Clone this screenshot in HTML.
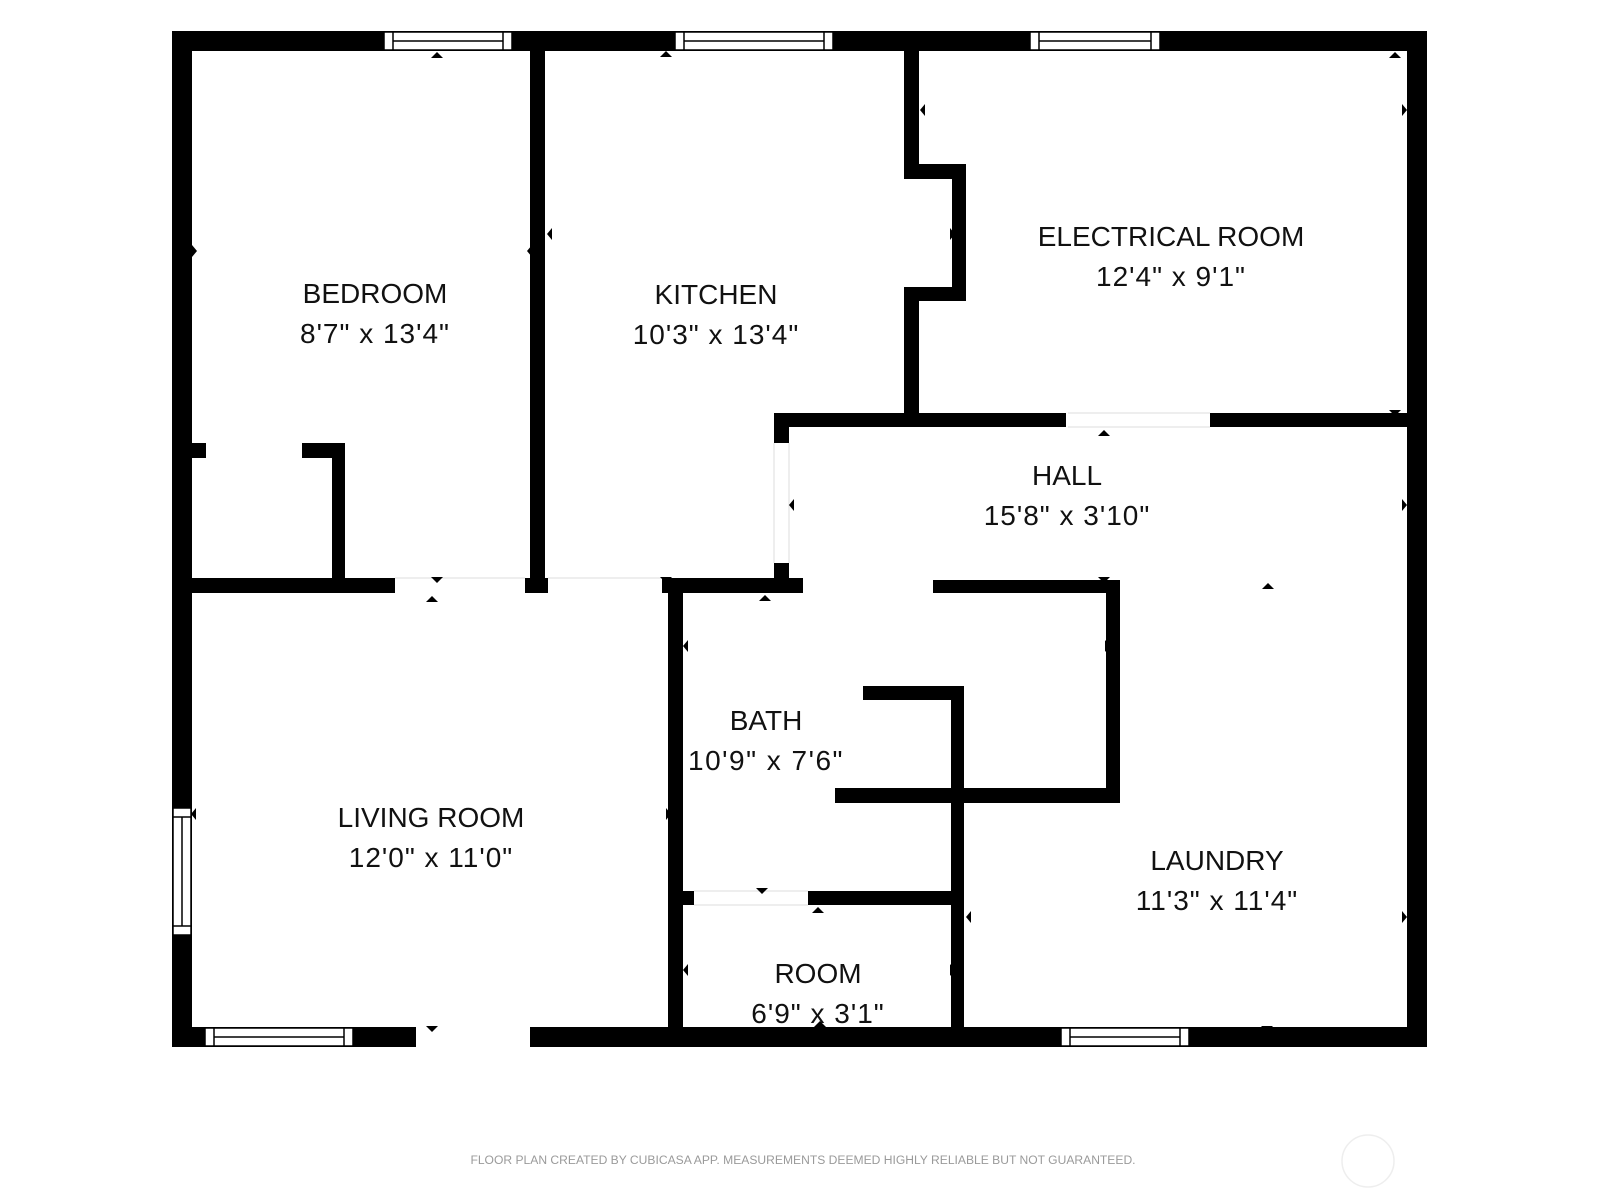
<!DOCTYPE html>
<html><head><meta charset="utf-8"><style>
html,body{margin:0;padding:0;background:#fff}
svg{display:block}
text{font-family:"Liberation Sans",sans-serif;fill:#111}
</style></head><body>
<svg width="1600" height="1200" viewBox="0 0 1600 1200" xmlns="http://www.w3.org/2000/svg">
<rect width="1600" height="1200" fill="#fff"/>
<g fill="#000">
<rect x="172" y="31" width="1255" height="20"/>
<rect x="172" y="31" width="20" height="1016"/>
<rect x="1407" y="31" width="20" height="1016"/>
<rect x="172" y="1027" width="1255" height="20"/>
<rect x="530" y="31" width="15" height="547"/>
<rect x="525" y="578" width="23" height="15"/>
<rect x="172" y="578" width="223" height="15"/>
<rect x="192" y="443" width="14" height="15"/>
<rect x="302" y="443" width="43" height="15"/>
<rect x="332" y="443" width="13" height="140"/>
<rect x="904" y="31" width="15" height="140"/>
<rect x="904" y="164" width="62" height="15"/>
<rect x="952" y="164" width="14" height="137"/>
<rect x="904" y="287" width="62" height="14"/>
<rect x="904" y="287" width="15" height="140"/>
<rect x="774" y="413" width="292" height="14"/>
<rect x="1210" y="413" width="217" height="14"/>
<rect x="774" y="413" width="15" height="30"/>
<rect x="774" y="563" width="15" height="30"/>
<rect x="662" y="578" width="141" height="15"/>
<rect x="933" y="580" width="187" height="13"/>
<rect x="1106" y="580" width="14" height="223"/>
<rect x="835" y="788" width="285" height="15"/>
<rect x="668" y="578" width="15" height="469"/>
<rect x="951" y="686" width="13" height="361"/>
<rect x="863" y="686" width="101" height="14"/>
<rect x="668" y="891" width="26" height="14"/>
<rect x="808" y="891" width="156" height="14"/>
</g>
<g stroke="#ddd" stroke-width="1">
<line x1="395" y1="578" x2="525" y2="578"/>
<line x1="548" y1="578" x2="662" y2="578"/>
<line x1="1068" y1="413" x2="1210" y2="413"/>
<line x1="1068" y1="427" x2="1210" y2="427"/>
<line x1="774" y1="443" x2="774" y2="563"/>
<line x1="789" y1="443" x2="789" y2="563"/>
<line x1="694" y1="891" x2="808" y2="891"/>
<line x1="694" y1="905" x2="808" y2="905"/>
<line x1="416" y1="1027" x2="530" y2="1027"/>
<line x1="416" y1="1047" x2="530" y2="1047"/>
</g>
<rect x="416" y="1026" width="114" height="22" fill="#fff"/>
<g fill="#fff" stroke="#000" stroke-width="1.5">
<rect x="384" y="32" width="128" height="18"/><line x1="393" y1="32" x2="393" y2="50"/><line x1="503" y1="32" x2="503" y2="50"/><line x1="393" y1="41" x2="503" y2="41"/>
<rect x="675" y="32" width="158" height="18"/><line x1="684" y1="32" x2="684" y2="50"/><line x1="824" y1="32" x2="824" y2="50"/><line x1="684" y1="41" x2="824" y2="41"/>
<rect x="1030" y="32" width="130" height="18"/><line x1="1039" y1="32" x2="1039" y2="50"/><line x1="1151" y1="32" x2="1151" y2="50"/><line x1="1039" y1="41" x2="1151" y2="41"/>
<rect x="205" y="1028" width="148" height="18"/><line x1="214" y1="1028" x2="214" y2="1046"/><line x1="344" y1="1028" x2="344" y2="1046"/><line x1="214" y1="1037" x2="344" y2="1037"/>
<rect x="1061" y="1028" width="128" height="18"/><line x1="1070" y1="1028" x2="1070" y2="1046"/><line x1="1180" y1="1028" x2="1180" y2="1046"/><line x1="1070" y1="1037" x2="1180" y2="1037"/>
<rect x="173" y="808" width="18" height="127"/><line x1="173" y1="817" x2="191" y2="817"/><line x1="173" y1="926" x2="191" y2="926"/><line x1="182" y1="817" x2="182" y2="926"/>
</g>
<g fill="#000">
<polygon points="431,58 443,58 437,52"/>
<polygon points="660,57 672,57 666,51"/>
<polygon points="1389,58 1401,58 1395,52"/>
<polygon points="1389,410 1401,410 1395,416"/>
<polygon points="1098,436 1110,436 1104,430"/>
<polygon points="431,577 443,577 437,583"/>
<polygon points="426,602 438,602 432,596"/>
<polygon points="660,577 672,577 666,583"/>
<polygon points="1098,577 1110,577 1104,583"/>
<polygon points="759,601 771,601 765,595"/>
<polygon points="1262,589 1274,589 1268,583"/>
<polygon points="756,888 768,888 762,894"/>
<polygon points="812,913 824,913 818,907"/>
<polygon points="426,1026 438,1026 432,1032"/>
<polygon points="1261,1026 1273,1026 1267,1032"/>
<polygon points="814,1027 826,1027 820,1021"/>
<polygon points="192,245 192,257 197,251"/>
<polygon points="532,245 532,257 527,251"/>
<polygon points="552,228 552,240 547,234"/>
<polygon points="950,228 950,240 955,234"/>
<polygon points="925,104 925,116 920,110"/>
<polygon points="1402,104 1402,116 1407,110"/>
<polygon points="794,499 794,511 789,505"/>
<polygon points="1402,499 1402,511 1407,505"/>
<polygon points="688,640 688,652 683,646"/>
<polygon points="1105,640 1105,652 1110,646"/>
<polygon points="196,808 196,820 191,814"/>
<polygon points="666,808 666,820 671,814"/>
<polygon points="971,911 971,923 966,917"/>
<polygon points="1402,911 1402,923 1407,917"/>
<polygon points="688,964 688,976 683,970"/>
<polygon points="950,964 950,976 955,970"/>
</g>
<g font-size="28" text-anchor="middle">
<text x="375" y="303">BEDROOM</text><text x="375" y="343" letter-spacing="1">8'7" x 13'4"</text>
<text x="716" y="304">KITCHEN</text><text x="716" y="344" letter-spacing="1">10'3" x 13'4"</text>
<text x="1171" y="246">ELECTRICAL ROOM</text><text x="1171" y="286" letter-spacing="1">12'4" x 9'1"</text>
<text x="1067" y="485">HALL</text><text x="1067" y="525" letter-spacing="1">15'8" x 3'10"</text>
<text x="766" y="730">BATH</text><text x="766" y="770" letter-spacing="1.5">10'9" x 7'6"</text>
<text x="431" y="827">LIVING ROOM</text><text x="431" y="867" letter-spacing="1">12'0" x 11'0"</text>
<text x="1217" y="870">LAUNDRY</text><text x="1217" y="910" letter-spacing="1">11'3" x 11'4"</text>
<text x="818" y="983">ROOM</text><text x="818" y="1023" letter-spacing="1">6'9" x 3'1"</text>
</g>
<text x="803" y="1164" font-size="12.1" text-anchor="middle" style="fill:#9a9a9a">FLOOR PLAN CREATED BY CUBICASA APP. MEASUREMENTS DEEMED HIGHLY RELIABLE BUT NOT GUARANTEED.</text>
<circle cx="1368" cy="1161" r="26" fill="none" stroke="#eee" stroke-width="1.5"/>
</svg>
</body></html>
